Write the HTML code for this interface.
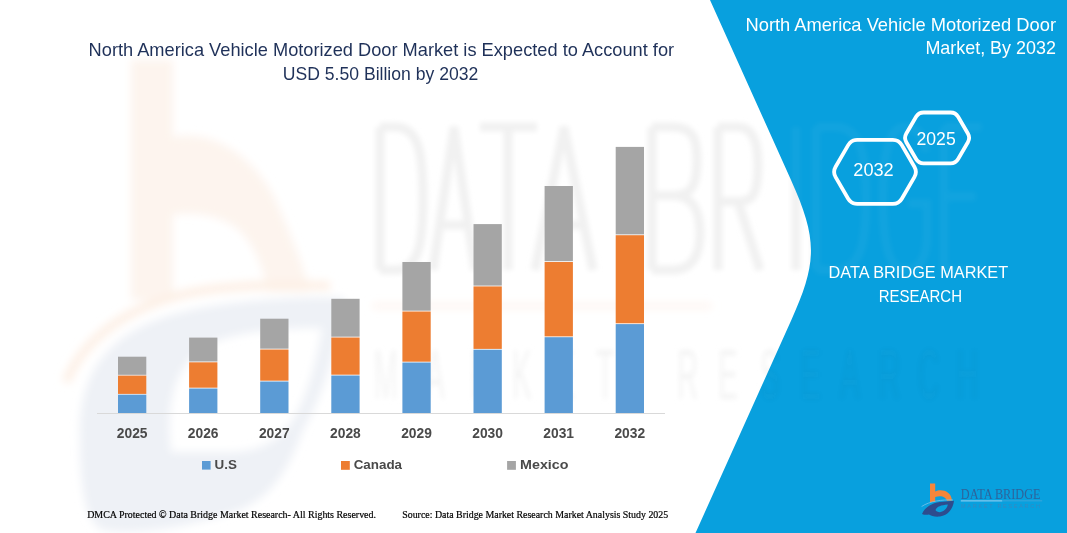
<!DOCTYPE html>
<html><head><meta charset="utf-8">
<style>
html,body{margin:0;padding:0;background:#fff;}
body{width:1067px;height:533px;overflow:hidden;position:relative;}
svg{position:absolute;left:0;top:0;}
text{font-family:"Liberation Sans",sans-serif;}
</style></head>
<body>
<svg width="1067" height="533" viewBox="0 0 1067 533">
  <defs>
    <clipPath id="pc"><path d="M710,0 L1067,0 L1067,533 L695.5,533 L791.35,320 C817.6,261.7 817.55,238.96 791,180 Z"/></clipPath>
    <filter id="bl" x="-10%" y="-10%" width="120%" height="120%"><feGaussianBlur stdDeviation="2.5"/></filter>
    <filter id="bl2" x="-10%" y="-10%" width="120%" height="120%"><feGaussianBlur stdDeviation="4"/></filter>
  </defs>
  <rect x="0" y="0" width="1067" height="533" fill="#fff"/>

  <!-- watermark on white -->
  <g filter="url(#bl2)">
    <path d="M131,60 L173,60 L173,137 C215,128 262,160 282,215 C295,245 305,270 309,292 L268,292 C262,262 250,235 230,224 C212,214 190,212 173,215 L173,300 L131,300 Z" fill="#fdf4ee"/>
    <path fill-rule="evenodd" d="M80,440 C78,380 100,330 190,310 C240,300 300,296 345,298 C335,360 320,400 303,430 C290,465 275,495 240,510 C190,528 130,536 102,530 C86,522 80,490 80,440 Z M171,452 C165,400 175,350 230,337 C260,330 290,328 322,328 C315,370 305,400 293,420 C280,440 260,452 230,452 Z" fill="#eef1f6"/>
    <path d="M66,382 C85,335 135,302 200,291 C240,285 285,284 330,286" fill="none" stroke="#fdf0e6" stroke-width="9"/>
    <rect x="372" y="304" width="340" height="4" fill="#fdf1ea"/>
  </g>
  <g fill="none" stroke="#f1f1f1" stroke-width="9" filter="url(#bl)">
    <path d="M380,127 L380,270 M380,127 L395,127 C420,127 423,157 423,198.5 C423,240 420,270 395,270 L380,270 M433,270 L454,127 L475,270 M441,225 L467,225 M480,127 L537,127 M508,127 L508,270 M535,270 L564,127 L593,270 M545,225 L583,225 M652,127 L652,270 M652,127 L672,127 C695,127 697,142 697,160 C697,188.5 690,195.5 672,195.5 L652,195.5 M672,195.5 C695,195.5 700,213.5 700,233.5 C700,255 692,270 672,270 L652,270 M718,127 L718,270 M718,127 L738,127 C755,127 758,147 758,165 C758,198.5 750,201.5 738,201.5 L718,201.5 M738,201.5 L760,270 M796,127 L796,270 M816,127 L816,270 M816,127 L835,127 C862,127 866,157 866,198.5 C866,240 862,270 835,270 L816,270 M926,152 C924,132 915,127 905,127 C888,127 883,157 883,198.5 C883,240 888,270 905,270 C918,270 927,260 927,235 L927,203.5 L908,203.5 M944,127 L944,270 M944,127 L982,127 M944,196.5 L976,196.5 M944,270 L983,270"/>
  </g>
  <g fill="#f4f4f4" font-size="70" filter="url(#bl)">
    <text transform="translate(373.5,399) scale(0.42,1)">M</text><text transform="translate(425,399) scale(0.42,1)">A</text><text transform="translate(470,399) scale(0.42,1)">R</text><text transform="translate(512,399) scale(0.42,1)">K</text><text transform="translate(555,399) scale(0.42,1)">E</text><text transform="translate(596,399) scale(0.42,1)">T</text><text transform="translate(677,399) scale(0.42,1)">R</text><text transform="translate(718,399) scale(0.42,1)">E</text><text transform="translate(760,399) scale(0.42,1)">S</text><text transform="translate(801,399) scale(0.42,1)">E</text><text transform="translate(840,399) scale(0.42,1)">A</text><text transform="translate(879,399) scale(0.42,1)">R</text><text transform="translate(918,399) scale(0.42,1)">C</text><text transform="translate(957,399) scale(0.42,1)">H</text>
  </g>
  <!-- blue panel -->
  <path d="M710,0 L1067,0 L1067,533 L695.5,533 L791.35,320 C817.6,261.7 817.55,238.96 791,180 Z" fill="#08a0de"/>
  <g clip-path="url(#pc)" filter="url(#bl)">
    <path d="M380,127 L380,270 M380,127 L395,127 C420,127 423,157 423,198.5 C423,240 420,270 395,270 L380,270 M433,270 L454,127 L475,270 M441,225 L467,225 M480,127 L537,127 M508,127 L508,270 M535,270 L564,127 L593,270 M545,225 L583,225 M652,127 L652,270 M652,127 L672,127 C695,127 697,142 697,160 C697,188.5 690,195.5 672,195.5 L652,195.5 M672,195.5 C695,195.5 700,213.5 700,233.5 C700,255 692,270 672,270 L652,270 M718,127 L718,270 M718,127 L738,127 C755,127 758,147 758,165 C758,198.5 750,201.5 738,201.5 L718,201.5 M738,201.5 L760,270 M796,127 L796,270 M816,127 L816,270 M816,127 L835,127 C862,127 866,157 866,198.5 C866,240 862,270 835,270 L816,270 M926,152 C924,132 915,127 905,127 C888,127 883,157 883,198.5 C883,240 888,270 905,270 C918,270 927,260 927,235 L927,203.5 L908,203.5 M944,127 L944,270 M944,127 L982,127 M944,196.5 L976,196.5 M944,270 L983,270" fill="none" stroke="#ffffff" stroke-opacity="0.045" stroke-width="9"/>
    <g fill="#777" fill-opacity="0.035" font-size="70"><text transform="translate(373.5,399) scale(0.42,1)">M</text><text transform="translate(425,399) scale(0.42,1)">A</text><text transform="translate(470,399) scale(0.42,1)">R</text><text transform="translate(512,399) scale(0.42,1)">K</text><text transform="translate(555,399) scale(0.42,1)">E</text><text transform="translate(596,399) scale(0.42,1)">T</text><text transform="translate(677,399) scale(0.42,1)">R</text><text transform="translate(718,399) scale(0.42,1)">E</text><text transform="translate(760,399) scale(0.42,1)">S</text><text transform="translate(801,399) scale(0.42,1)">E</text><text transform="translate(840,399) scale(0.42,1)">A</text><text transform="translate(879,399) scale(0.42,1)">R</text><text transform="translate(918,399) scale(0.42,1)">C</text><text transform="translate(957,399) scale(0.42,1)">H</text></g>
  </g>

  <!-- axis -->
  <rect x="97" y="413" width="568" height="1" fill="#d9d9d9"/>

  <!-- bars -->
  <rect x="118.0" y="394.7" width="28.3" height="18.3" fill="#5b9bd5"/><rect x="118.0" y="375.6" width="28.3" height="18.3" fill="#ed7d31"/><rect x="118.0" y="356.7" width="28.3" height="18.1" fill="#a5a5a5"/><rect x="189.1" y="388.5" width="28.3" height="24.5" fill="#5b9bd5"/><rect x="189.1" y="362.3" width="28.3" height="25.4" fill="#ed7d31"/><rect x="189.1" y="337.6" width="28.3" height="23.9" fill="#a5a5a5"/><rect x="260.2" y="381.5" width="28.3" height="31.5" fill="#5b9bd5"/><rect x="260.2" y="349.5" width="28.3" height="31.2" fill="#ed7d31"/><rect x="260.2" y="318.7" width="28.3" height="30.0" fill="#a5a5a5"/><rect x="331.3" y="375.5" width="28.3" height="37.5" fill="#5b9bd5"/><rect x="331.3" y="337.5" width="28.3" height="37.2" fill="#ed7d31"/><rect x="331.3" y="298.8" width="28.3" height="37.9" fill="#a5a5a5"/><rect x="402.4" y="362.5" width="28.3" height="50.5" fill="#5b9bd5"/><rect x="402.4" y="311.5" width="28.3" height="50.2" fill="#ed7d31"/><rect x="402.4" y="262.0" width="28.3" height="48.7" fill="#a5a5a5"/><rect x="473.5" y="349.7" width="28.3" height="63.3" fill="#5b9bd5"/><rect x="473.5" y="286.4" width="28.3" height="62.5" fill="#ed7d31"/><rect x="473.5" y="224.1" width="28.3" height="61.5" fill="#a5a5a5"/><rect x="544.6" y="337.2" width="28.3" height="75.8" fill="#5b9bd5"/><rect x="544.6" y="262.0" width="28.3" height="74.4" fill="#ed7d31"/><rect x="544.6" y="186.0" width="28.3" height="75.2" fill="#a5a5a5"/><rect x="615.7" y="324.1" width="28.3" height="88.9" fill="#5b9bd5"/><rect x="615.7" y="235.2" width="28.3" height="88.1" fill="#ed7d31"/><rect x="615.7" y="146.9" width="28.3" height="87.5" fill="#a5a5a5"/>

  <!-- hexagons -->
  <g fill="none" stroke="#fff" stroke-width="3.8">
    <path d="M835.62,177.09 Q832.60,171.90 835.62,166.71 L848.18,145.09 Q851.20,139.90 857.20,139.90 L892.80,139.90 Q898.80,139.90 901.82,145.09 L914.38,166.71 Q917.40,171.90 914.38,177.09 L901.82,198.71 Q898.80,203.90 892.80,203.90 L857.20,203.90 Q851.20,203.90 848.18,198.71 Z"/>
    <path d="M906.32,142.22 Q903.80,137.90 906.32,133.58 L916.08,116.82 Q918.60,112.50 923.60,112.50 L950.60,112.50 Q955.60,112.50 958.12,116.82 L967.88,133.58 Q970.40,137.90 967.88,142.22 L958.12,158.98 Q955.60,163.30 950.60,163.30 L923.60,163.30 Q918.60,163.30 916.08,158.98 Z"/>
  </g>

  <!-- title -->
  <g fill="#1f3159" font-size="18.4">
    <text x="88.6" y="55.9" textLength="585.5" lengthAdjust="spacingAndGlyphs">North America Vehicle Motorized Door Market is Expected to Account for</text>
    <text x="282.8" y="80" textLength="195.5" lengthAdjust="spacingAndGlyphs">USD 5.50 Billion by 2032</text>
  </g>
  <g fill="#fff" font-size="18.4">
    <text x="745.5" y="31" textLength="310.5" lengthAdjust="spacingAndGlyphs">North America Vehicle Motorized Door</text>
    <text x="925.4" y="54" textLength="130.5" lengthAdjust="spacingAndGlyphs">Market, By 2032</text>
    <text x="853.3" y="175.8" font-size="18.3" textLength="40.4" lengthAdjust="spacingAndGlyphs">2032</text>
    <text x="916.5" y="144.9" font-size="18.2" textLength="39.2" lengthAdjust="spacingAndGlyphs">2025</text>
    <text x="828.6" y="277.5" font-size="17" textLength="179.5" lengthAdjust="spacingAndGlyphs">DATA BRIDGE MARKET</text>
    <text x="878.8" y="301.5" font-size="17" textLength="83.2" lengthAdjust="spacingAndGlyphs">RESEARCH</text>
  </g>

  <!-- year labels -->
  <g fill="#4a4a4a" font-size="13.8" font-weight="bold" text-anchor="middle">
    <text x="132.2" y="438">2025</text><text x="203.2" y="438">2026</text><text x="274.3" y="438">2027</text><text x="345.4" y="438">2028</text><text x="416.5" y="438">2029</text><text x="487.6" y="438">2030</text><text x="558.7" y="438">2031</text><text x="629.8" y="438">2032</text>
  </g>

  <!-- legend -->
  <rect x="202" y="461" width="8.6" height="8.6" fill="#5b9bd5"/>
  <rect x="341" y="461" width="8.8" height="8.8" fill="#ed7d31"/>
  <rect x="507.1" y="461" width="8.8" height="8.8" fill="#a5a5a5"/>
  <g fill="#4a4a4a" font-size="13.4" font-weight="bold">
    <text x="214.5" y="468.6">U.S</text>
    <text x="353.7" y="468.6">Canada</text>
    <text x="520.1" y="468.6" textLength="48.4" lengthAdjust="spacingAndGlyphs">Mexico</text>
  </g>

  <!-- footer -->
  <g fill="#000" stroke="#000" stroke-width="0.2" font-size="9.8" style="font-family:'Liberation Serif',serif">
    <text x="87.2" y="517.7" textLength="288.8" lengthAdjust="spacingAndGlyphs" style="font-family:'Liberation Serif',serif">DMCA Protected © Data Bridge Market Research- All Rights Reserved.</text>
    <text x="402.2" y="517.7" textLength="266" lengthAdjust="spacingAndGlyphs" style="font-family:'Liberation Serif',serif">Source: Data Bridge Market Research Market Analysis Study 2025</text>
  </g>

  <!-- logo -->
  <g>
    <path d="M930,483.5 L935.2,483.5 L935.2,491.5 C941,488.5 951,490.5 952,500.5 L947,500.8 C946,497 941,495 935.2,497 L935.2,502 L930,502 Z" fill="#f5863a"/>
    <path fill-rule="evenodd" d="M922,514 C925,507 932,503 940,502 L954,500.8 C953,509 948,515.5 940,516.5 C935,517 931,516 929,514.5 C927,515 924,515 922,514 Z M935.5,510 C937,506.5 941,505.3 947.8,504.6 C947.2,508.5 944,511.8 940,512.2 C938,512.3 936.2,511.4 935.5,510 Z" fill="#2d4c8e"/>
    <path d="M921.6,506.5 C930,501 942,499.5 953,500" fill="none" stroke="#7ec0ea" stroke-width="0.8"/>
    <text x="960.8" y="498.5" font-size="13.6" fill="#35598f" textLength="79.7" lengthAdjust="spacingAndGlyphs" style="font-family:'Liberation Serif',serif" opacity="0.85">DATA BRIDGE</text>
    <rect x="960.8" y="500.4" width="41.4" height="1" fill="#9fd2f2"/>
    <rect x="1002.2" y="500.6" width="40" height="0.6" fill="#5fa7d6"/>
    <text x="961" y="508.3" font-size="5.5" fill="#4a7fb5" opacity="0.7" textLength="79" lengthAdjust="spacing">MARKET RESEARCH</text>
  </g>
</svg>
</body></html>
